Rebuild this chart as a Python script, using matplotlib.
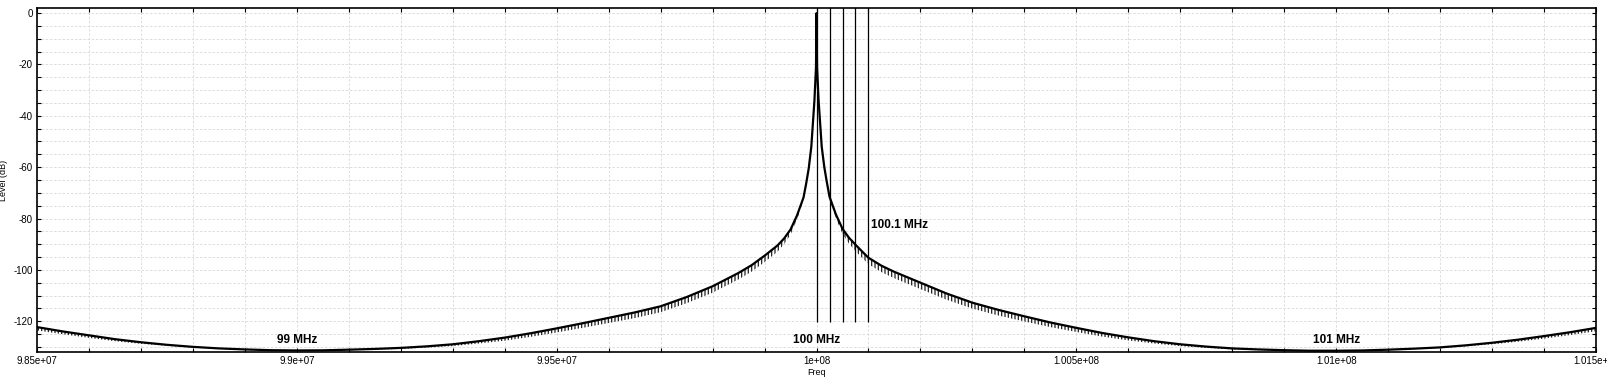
import numpy as np
import matplotlib.pyplot as plt
from matplotlib.ticker import MultipleLocator, FormatStrFormatter

# spectrum values (MHz, dB)
freq_mhz = [98.5, 98.55, 98.6, 98.65, 98.7, 98.75, 98.8, 98.85, 98.9, 98.95,
            99.0, 99.05, 99.1, 99.15, 99.2, 99.25, 99.3, 99.35, 99.4, 99.45,
            99.5, 99.55, 99.6, 99.65, 99.7, 99.75, 99.8, 99.85, 99.875, 99.9,
            99.925, 99.9375, 99.95, 99.9625, 99.975, 99.98, 99.985, 99.99, 99.996, 99.999, 100.0,
            100.001, 100.004, 100.01, 100.015, 100.02, 100.025, 100.0375, 100.05, 100.0625, 100.075,
            100.0875, 100.1, 100.125, 100.15, 100.2, 100.25, 100.3, 100.35, 100.4, 100.45,
            100.5, 100.55, 100.6, 100.65, 100.7, 100.75, 100.8, 100.85, 100.9, 100.95,
            101.0, 101.05, 101.1, 101.15, 101.2, 101.25, 101.3, 101.35, 101.4, 101.45,
            101.5]
level_db = [-122.3, -124.0, -125.5, -127.0, -128.2, -129.2, -130.0, -130.6, -131.0, -131.3,
            -131.4, -131.35, -131.1, -130.8, -130.4, -129.8, -129.0, -127.8, -126.4, -124.7,
            -122.8, -120.8, -118.7, -116.6, -114.2, -110.6, -106.4, -101.2, -98.2, -94.5,
            -90.5, -87.8, -84.3, -78.8, -71.8, -66.5, -60.5, -52.0, -34.0, -21.0, 0.0,
            -21.0, -34.0, -52.0, -60.0, -66.0, -71.5, -78.5, -84.0, -87.5, -90.2,
            -92.8, -95.3, -98.4, -100.8, -105.0, -109.2, -112.8, -115.6, -118.1, -120.5,
            -122.6, -124.6, -126.3, -127.8, -129.0, -129.9, -130.6, -131.0, -131.3, -131.5,
            -131.5, -131.4, -131.1, -130.7, -130.2, -129.4, -128.4, -127.2, -125.8, -124.3,
            -122.6]
# depth of the comb ripple hanging under the trace (dB)
ripple_db = [1.3, 1.1, 1.0, 0.8, 0.6, 0.4, 0.3, 0.2, 0.2, 0.1,
             0.1, 0.1, 0.2, 0.3, 0.4, 0.5, 0.7, 0.9, 1.2, 1.4,
             1.6, 1.8, 2.0, 2.2, 2.3, 2.4, 2.5, 2.5, 2.5, 2.5,
             2.4, 2.2, 2.0, 1.6, 1.0, 0.6, 0.3, 0.0, 0.0, 0.0, 0.0,
             0.0, 0.0, 0.0, 0.3, 0.6, 1.0, 1.5, 2.0, 2.3, 2.5,
             2.5, 2.5, 2.5, 2.5, 2.5, 2.4, 2.3, 2.2, 2.0, 1.8,
             1.6, 1.4, 1.2, 0.9, 0.7, 0.5, 0.4, 0.3, 0.2, 0.1,
             0.1, 0.1, 0.2, 0.2, 0.3, 0.4, 0.6, 0.8, 1.0, 1.1,
             1.3]

marker_mhz = [100.0, 100.025, 100.05, 100.075, 100.1]
marker_bottom = -120.5

label_mhz = [99.0, 100.0, 101.0]
label_text = ['99 MHz', '100 MHz', '101 MHz']

plt.rcParams['font.family'] = ['Liberation Sans', 'DejaVu Sans']
plt.rcParams['axes.unicode_minus'] = False
plt.rcParams['hatch.linewidth'] = 0.9

freq = np.array(freq_mhz) * 1e6
level = np.array(level_db)
lower = level - np.array(ripple_db)

fig = plt.figure(figsize=(16.07, 3.78), dpi=100)
ax = fig.add_axes([0.023, 0.0688, 0.9702, 0.91])

# grid first so it stays under the trace
ax.grid(True, which='both', color='#d8d8d8', linestyle=(0, (3, 2)), linewidth=0.6)
ax.set_axisbelow(True)

# comb ripple under the trace
ax.fill_between(freq, lower, level, facecolor='none', edgecolor='#202020',
                hatch='|||||', linewidth=0)
ax.plot(freq, level, color='black', linewidth=1.6)

ax.vlines(np.array(marker_mhz) * 1e6, marker_bottom, 10, color='black', linewidth=0.9)

for f, t in zip(label_mhz, label_text):
    ax.text(f * 1e6, -128.5, t, ha='center', va='baseline', fontsize=8.5, weight='bold')
ax.text(100.105e6, -83.6, '100.1 MHz', ha='left', va='baseline', fontsize=8.5, weight='bold')

ax.set_xlim(98.5e6, 101.5e6)
ax.set_ylim(-132, 2)

ax.xaxis.set_major_locator(MultipleLocator(0.5e6))
ax.xaxis.set_minor_locator(MultipleLocator(0.1e6))
ax.xaxis.set_major_formatter(FormatStrFormatter('%g'))
ax.yaxis.set_major_locator(MultipleLocator(20))
ax.yaxis.set_minor_locator(MultipleLocator(5))

ax.tick_params(which='both', direction='in', top=True, right=True,
               length=3, width=0.8, labelsize=7, pad=3)
for s in ax.spines.values():
    s.set_linewidth(1.2)

ax.set_xlabel('Freq', fontsize=6.5, labelpad=1)
ax.set_ylabel('Level (dB)', fontsize=6.5, labelpad=4)

fig.savefig('out.png', dpi=100)
